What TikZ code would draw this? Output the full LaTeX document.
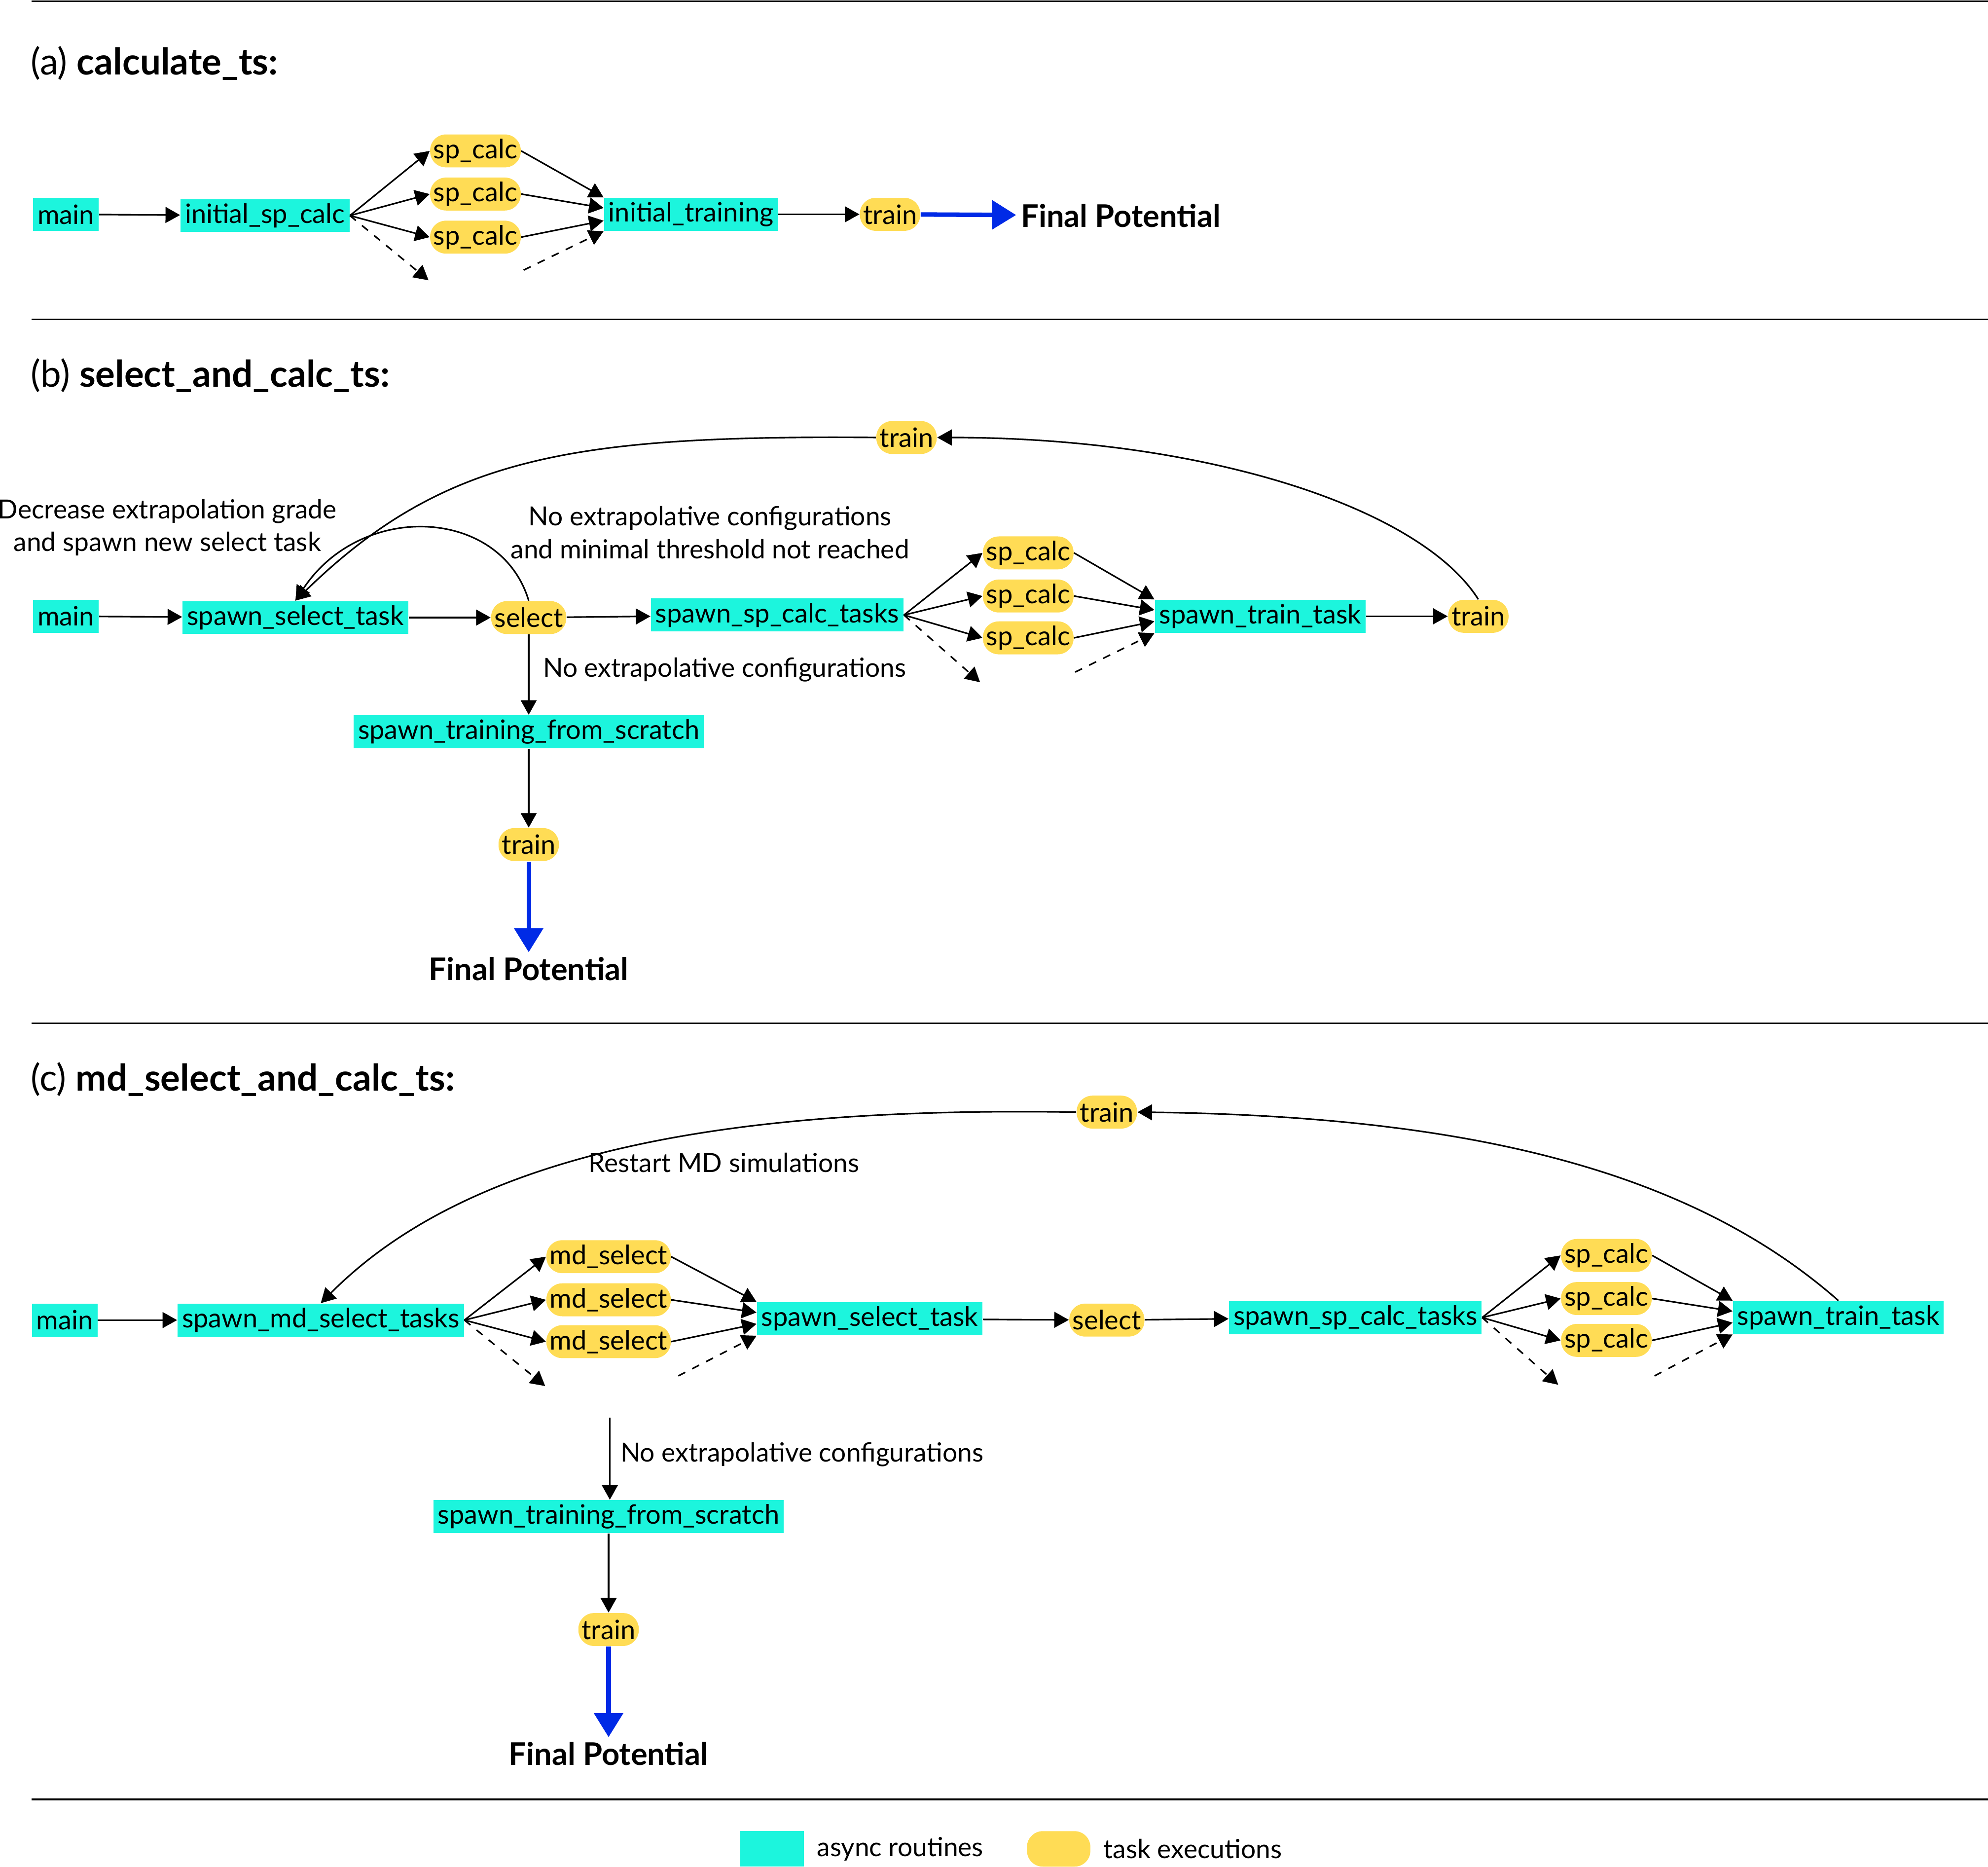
\documentclass[tikz,border=0pt]{standalone}
\usepackage{fontspec}
\setmainfont{Lato}
\usetikzlibrary{arrows.meta,positioning}
\definecolor{routcyan}{RGB}{28,245,221}
\definecolor{taskyel}{RGB}{255,220,85}
\definecolor{finblue}{RGB}{0,42,230}

\begin{document}
\begin{tikzpicture}[x=0.02cm,y=-0.02cm,
  rcell/.style={fill=routcyan,minimum height=0.52cm,inner xsep=2pt,inner ysep=0pt,font=\fontsize{12}{14.8}\selectfont},
  tcell/.style={fill=taskyel,rounded corners=0.25cm,minimum height=0.52cm,inner xsep=1.5pt,inner ysep=0pt,font=\fontsize{12}{14.8}\selectfont},
  lbl/.style={font=\fontsize{11.8}{14.8}\selectfont,align=center,inner sep=0pt},
  hdr/.style={font=\fontsize{16.5}{19}\selectfont,anchor=west,inner sep=0pt},
  fin/.style={font=\fontsize{14}{17}\selectfont\bfseries,inner sep=2pt},
  arr/.style={-{Triangle[length=2.3mm,width=2.5mm]},line width=0.7pt},
  darr/.style={arr,dash pattern=on 3.5pt off 3.5pt},
  barr/.style={-{Triangle[length=3.8mm,width=4.5mm]},line width=2pt,finblue},
  rule/.style={line width=0.7pt},
]
  \useasboundingbox (0,0) rectangle (1568,1472);

  % separators
  \foreach \y in {1,252,807,1419}
    \draw[rule] (25,\y) -- (1568,\y);

  % (a)
  \node[hdr] (ahd) at (24,50) {(a) \textbf{calculate\_ts:}};
  \node[rcell] (amain) at (52,169) {main};
  \node[rcell] (aisc) at (209,170) {initial\_sp\_calc};
  \foreach \i/\y in {1/119,2/153,3/187}
    \node[tcell] (asp\i) at (375,\y) {sp\_calc};
  \node[rcell] (ait) at (545,169) {initial\_training};
  \node[tcell] (atr) at (702,169) {train};
  \node[fin] (afin) at (884,170) {Final Potential};
  \coordinate (ad1) at (338,221);
  \coordinate (ad2) at (413,213);

  \draw[arr] (amain) -- (aisc);
  \foreach \i in {1,2,3}
    \draw[arr] (aisc.east) -- (asp\i.west);
  \draw[darr] (aisc.east) -- (ad1);
  \draw[arr] (asp1.east) -- (ait.north west);
  \draw[arr] (asp2.east) -- ([yshift=0.1cm]ait.west);
  \draw[arr] (asp3.east) -- ([yshift=-0.1cm]ait.west);
  \draw[darr] (ad2) -- (ait.south west);
  \draw[arr] (ait) -- (atr);
  \draw[barr] (atr) -- (afin);

  % (b)
  \node[hdr] (bhd) at (24,296) {(b) \textbf{select\_and\_calc\_ts:}};
  \node[rcell] (bmain) at (52,486) {main};
  \node[rcell] (bsst) at (233,487) {spawn\_select\_task};
  \node[tcell] (bsel) at (417,487) {select};
  \node[rcell] (bspc) at (613,485) {spawn\_sp\_calc\_tasks};
  \foreach \i/\y in {1/436,2/470,3/503}
    \node[tcell] (bsp\i) at (811,\y) {sp\_calc};
  \node[rcell] (bstt) at (994,486) {spawn\_train\_task};
  \node[tcell] (btr) at (1166,486) {train};
  \node[tcell] (btrtop) at (715,345) {train};
  \node[rcell] (btfs) at (417,577) {spawn\_training\_from\_scratch};
  \node[tcell] (btr2) at (417,666) {train};
  \node[fin] (bfin) at (417,764) {Final Potential};
  \node[lbl] (bl1) at (132,416) {Decrease extrapolation grade\\and spawn new select task};
  \node[lbl] (bl2) at (560,420) {No extrapolative configurations\\and minimal threshold not reached};
  \node[lbl,anchor=west] (bl3) at (428,528) {No extrapolative configurations};
  \coordinate (bd1) at (773,538);
  \coordinate (bd2) at (848,530);

  \draw[arr] (bmain) -- (bsst);
  \draw[arr] (bsst) -- (bsel);
  \draw[arr] (bsel) -- (bspc);
  \foreach \i in {1,2,3}
    \draw[arr] (bspc.east) -- (bsp\i.west);
  \draw[darr] (bspc.east) -- (bd1);
  \draw[arr] (bsp1.east) -- (bstt.north west);
  \draw[arr] (bsp2.east) -- ([yshift=0.1cm]bstt.west);
  \draw[arr] (bsp3.east) -- ([yshift=-0.08cm]bstt.west);
  \draw[darr] (bd2) -- (bstt.south west);
  \draw[arr] (bstt) -- (btr);
  \draw[arr] (btr.north) .. controls (1120,400) and (950,345) .. (btrtop.east);
  \draw[arr] (btrtop.west) .. controls (450,343) and (350,360) .. (bsst.north);
  \draw[arr] (bsel.north) .. controls (395,400) and (285,395) .. (bsst.north);
  \draw[arr] (bsel) -- (btfs);
  \draw[arr] (btfs) -- (btr2);
  \draw[barr] (btr2) -- (bfin);

  % (c)
  \node[hdr] (chd) at (24,851) {(c) \textbf{md\_select\_and\_calc\_ts:}};
  \node[rcell] (cmain) at (51,1041) {main};
  \node[rcell] (csmst) at (253,1041) {spawn\_md\_select\_tasks};
  \foreach \i/\y in {1/991,2/1025,3/1058}
    \node[tcell] (cms\i) at (480,\y) {md\_select};
  \node[rcell] (csst) at (686,1040) {spawn\_select\_task};
  \node[tcell] (csel) at (873,1041) {select};
  \node[rcell] (cspc) at (1069,1039) {spawn\_sp\_calc\_tasks};
  \foreach \i/\y in {1/990,2/1024,3/1057}
    \node[tcell] (csp\i) at (1267,\y) {sp\_calc};
  \node[rcell] (cstt) at (1450,1039) {spawn\_train\_task};
  \node[tcell] (ctrtop) at (873,877) {train};
  \node[lbl] (cl1) at (571,917) {Restart MD simulations};
  \coordinate (cnx) at (481,1118);
  \node[lbl,anchor=west] (cl2) at (489,1147) {No extrapolative configurations};
  \node[rcell] (ctfs) at (480,1196) {spawn\_training\_from\_scratch};
  \node[tcell] (ctr2) at (480,1285) {train};
  \node[fin] (cfin) at (480,1383) {Final Potential};
  \coordinate (cd1) at (430,1093);
  \coordinate (cd2) at (535,1085);
  \coordinate (cd3) at (1229,1092);
  \coordinate (cd4) at (1305,1085);

  \draw[arr] (cmain) -- (csmst);
  \foreach \i in {1,2,3}
    \draw[arr] (csmst.east) -- (cms\i.west);
  \draw[darr] (csmst.east) -- (cd1);
  \draw[arr] (cms1.east) -- (csst.north west);
  \draw[arr] (cms2.east) -- ([yshift=0.1cm]csst.west);
  \draw[arr] (cms3.east) -- ([yshift=-0.08cm]csst.west);
  \draw[darr] (cd2) -- (csst.south west);
  \draw[arr] (csst) -- (csel);
  \draw[arr] (csel) -- (cspc);
  \foreach \i in {1,2,3}
    \draw[arr] (cspc.east) -- (csp\i.west);
  \draw[darr] (cspc.east) -- (cd3);
  \draw[arr] (csp1.east) -- (cstt.north west);
  \draw[arr] (csp2.east) -- ([yshift=0.1cm]cstt.west);
  \draw[arr] (csp3.east) -- ([yshift=-0.08cm]cstt.west);
  \draw[darr] (cd4) -- (cstt.south west);
  \draw[arr] (cstt.north) .. controls (1330,920) and (1150,880) .. (ctrtop.east);
  \draw[arr] (ctrtop.west) .. controls (600,873) and (380,900) .. (csmst.north);
  \draw[arr] (cnx) -- (cnx |- ctfs.north);
  \draw[arr] (ctfs) -- (ctr2);
  \draw[barr] (ctr2) -- (cfin);

  % legend
  \node[rcell,minimum width=1cm,minimum height=0.56cm] (lgr) at (609,1458) {};
  \node[lbl,anchor=west] (lgrt) at (644,1458) {async routines};
  \node[tcell,minimum width=1cm,minimum height=0.56cm] (lgt) at (835,1458) {};
  \node[lbl,anchor=west] (lgtt) at (870,1458) {task executions};
\end{tikzpicture}
\end{document}
